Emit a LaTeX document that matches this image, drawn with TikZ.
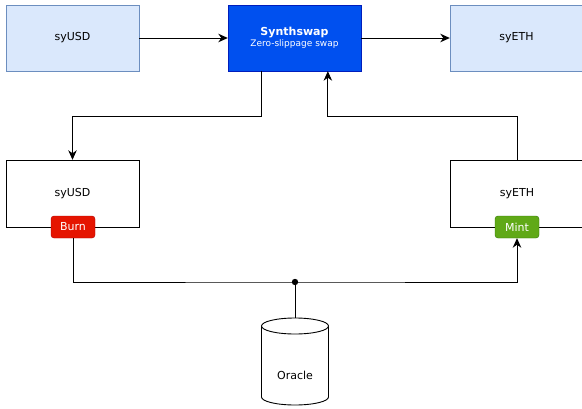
\documentclass[tikz,border=0pt]{standalone}
\usepackage{fontspec}
\setmainfont{DejaVu Sans}
\usetikzlibrary{arrows.meta,calc}

\definecolor{tokenfill}{HTML}{DAE8FC}
\definecolor{tokenline}{HTML}{6C8EBF}
\definecolor{swapfill}{HTML}{0050EF}
\definecolor{swapline}{HTML}{001DBC}
\definecolor{burnfill}{HTML}{E51400}
\definecolor{burnline}{HTML}{B20000}
\definecolor{mintfill}{HTML}{60A917}
\definecolor{mintline}{HTML}{2D7600}

\tikzset{
  lbl/.style={font=\fontsize{11}{13}\selectfont},
  token/.style={lbl, draw=tokenline, fill=tokenfill, minimum width=133pt, minimum height=66pt, inner sep=0pt},
  swapbox/.style={lbl, draw=swapline, fill=swapfill, text=white, minimum width=133pt, minimum height=66pt, inner sep=0pt, align=center},
  vault/.style={lbl, draw=black, fill=white, minimum width=133pt, minimum height=67pt, inner sep=0pt},
  tag/.style={lbl, rounded corners=3pt, text=white, minimum width=44pt, minimum height=22pt, inner sep=0pt},
  link/.style={draw=black, line width=0.9pt},
  arr/.style={link, -{Stealth[length=9.5pt,width=8.5pt,inset=3pt]}},
}

\begin{document}
\begin{tikzpicture}[x=1pt,y=-1pt]
\useasboundingbox (0,0) rectangle (582,408);

% top row: the two tokens and the swap
\node[token] (usdTop) at (72.5,38) {syUSD};
\node[swapbox] (swap) at (294.5,38)
  {{\bfseries Synthswap}\\[-2pt]{\fontsize{9}{10}\selectfont Zero-slippage swap}};
\node[token] (ethTop) at (516.5,38) {syETH};

% middle row: the vaults with burn / mint tags
\node[vault] (usdVault) at (72.5,193.5) {syUSD};
\node[vault] (ethVault) at (517,193.5) {syETH};
\node[tag, draw=burnline, fill=burnfill] (burn) at (73,227) {Burn};
\node[tag, draw=mintline, fill=mintfill] (mint) at (517,227) {Mint};

% routing helpers
\coordinate (bendY) at (0,116);
\coordinate (swapOutL) at ($(swap.south west)!0.25!(swap.south east)$);
\coordinate (swapInR) at ($(swap.south west)!0.75!(swap.south east)$);
\coordinate (join) at (295,282);

% oracle cylinder
\coordinate (oracleTop) at (295,318);
\draw[fill=white, line width=0.9pt] (261.5,326) -- (261.5,397)
  arc[start angle=180, end angle=0, x radius=33.5, y radius=8] -- (328.5,326);
\draw[fill=white, line width=0.9pt] (295,326) ellipse [x radius=33.5, y radius=8];
\node[lbl] (oracle) at (295,375) {Oracle};

% connectors
\draw[arr] (usdTop) -- (swap);
\draw[arr] (swap) -- (ethTop);
\draw[arr] (swapOutL) -- (swapOutL |- bendY) -| (usdVault.north);
\draw[arr] (ethVault.north) -- (ethVault.north |- bendY) -| (swapInR);
\draw[arr] (burn.south) |- (join) -| (mint.south);
\draw[link] (join) -- (oracleTop);
\fill (join) circle (3.2pt);
\end{tikzpicture}
\end{document}
